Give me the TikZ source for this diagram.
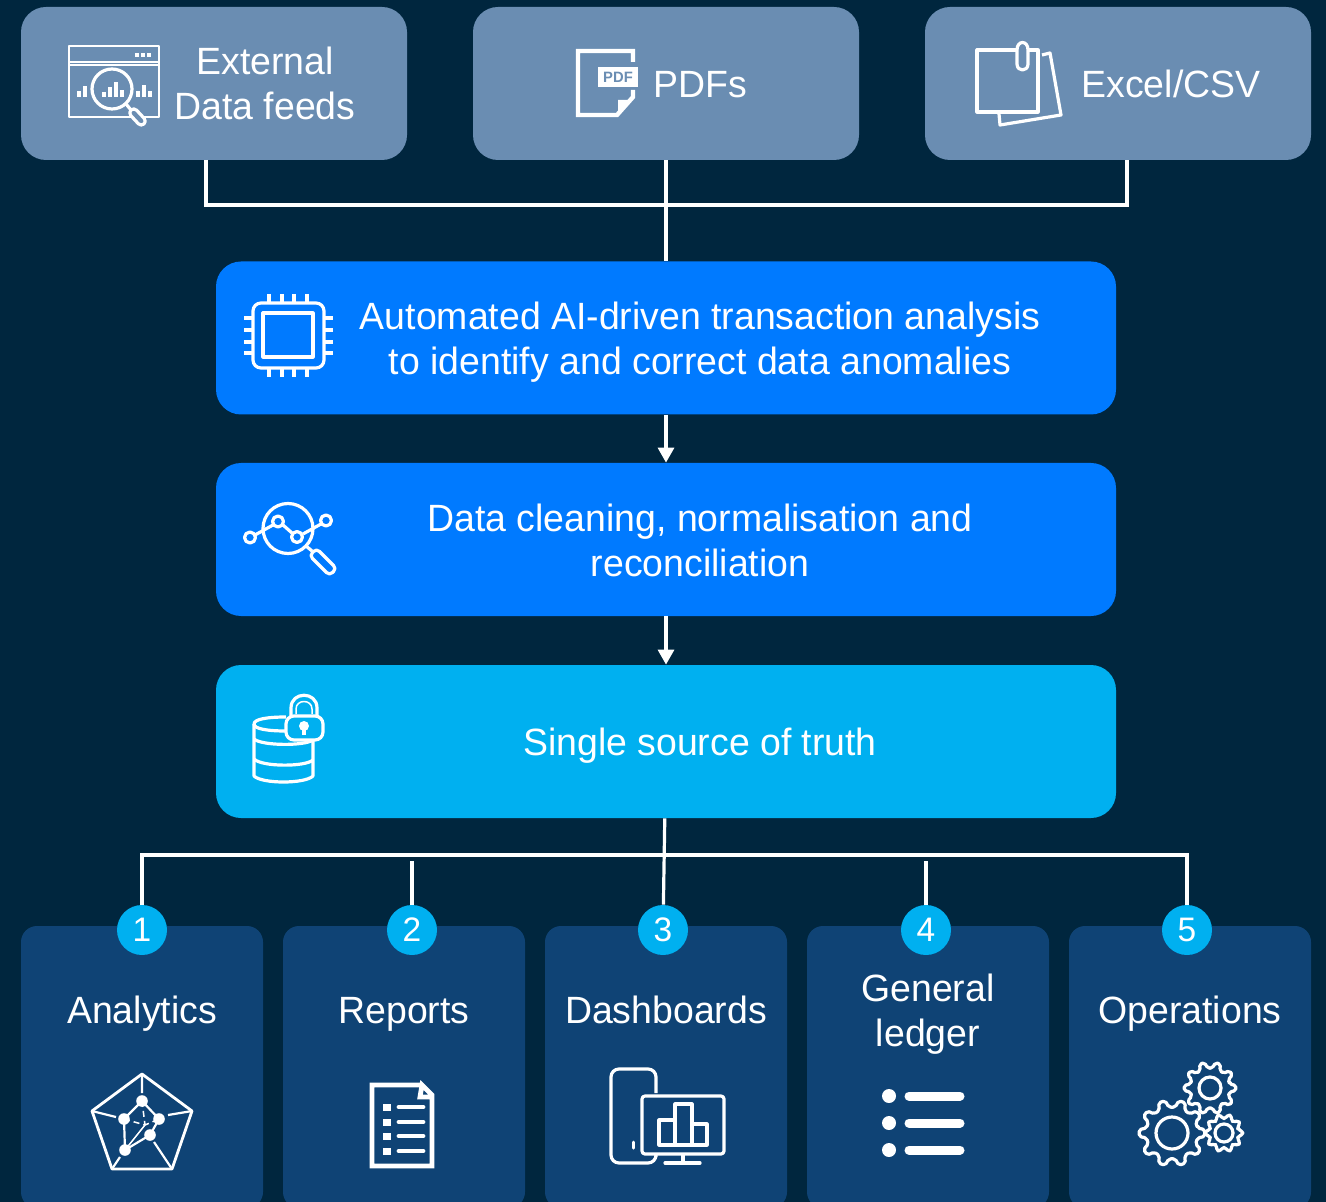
\documentclass[tikz,border=0pt]{standalone}
\usepackage{fontspec}
\setmainfont[FakeStretch=0.985]{Liberation Sans}
\usetikzlibrary{arrows.meta}

\definecolor{pagebg}{RGB}{0,38,62}
\definecolor{feedblue}{RGB}{106,141,178}
\definecolor{stepblue}{RGB}{0,122,255}
\definecolor{truthblue}{RGB}{0,176,240}
\definecolor{outblue}{RGB}{15,67,117}

\tikzset{
	feedbox/.style={shape=rectangle,fill=feedblue,rounded corners=12.5pt,minimum width=193pt,minimum height=76.5pt,inner sep=0pt},
	stepbox/.style={shape=rectangle,rounded corners=12.5pt,minimum width=450pt,minimum height=76.5pt,inner sep=0pt},
	outbox/.style={shape=rectangle,fill=outblue,rounded corners=8pt,minimum width=121pt,minimum height=141pt,inner sep=0pt},
	badge/.style={shape=circle,fill=truthblue,text=white,minimum size=25pt,inner sep=0pt,font=\fontsize{17}{20}\selectfont},
	caption/.style={text=white,align=center,inner sep=0pt,font=\fontsize{19}{22.5}\selectfont},
	wire/.style={draw=white,line width=1.6pt},
	icon/.style={draw=white,line width=1.6pt,line join=round},
	bar/.style={draw=white,line width=2pt}
}

% one gear: centre x, centre y, hole, root, tip
\newcommand{\geardraw}[5]{
	\begin{scope}[shift={(#1,#2)}]
		\draw[icon] (0,0) circle[radius=#3];
		\draw[icon,rounded corners=1pt] (-11:#4) \foreach \a in {0,36,...,324} { -- (\a-11:#4) -- (\a-6:#5) -- (\a+6:#5) -- (\a+11:#4) } -- cycle;
	\end{scope}
}

\begin{document}
\begin{tikzpicture}[x=0.5pt,y=-0.5pt]

	\useasboundingbox (0,0) rectangle (1326,1202);
	\clip (0,0) rectangle (1326,1202);
	\fill[pagebg] (0,0) rectangle (1326,1202);

	% feeds
	\node[feedbox] (ext) at (214,83.5) {};
	\node[feedbox] (pdf) at (666,83.5) {};
	\node[feedbox] (xls) at (1118,83.5) {};
	\node[caption] (exttxt) at (265,83) {External\\Data feeds};
	\node[caption] (pdftxt) at (700,85) {PDFs};
	\node[caption] (xlstxt) at (1171,84) {Excel/CSV};

	% steps
	\node[stepbox,fill=stepblue] (ai) at (666,338) {};
	\node[stepbox,fill=stepblue] (clean) at (666,539.5) {};
	\node[stepbox,fill=truthblue] (truth) at (666,741.5) {};
	\node[caption] (aitxt) at (700,342) {Automated AI-driven transaction analysis\\to identify and correct data anomalies};
	\node[caption] (cleantxt) at (700,540) {Data cleaning, normalisation and\\reconciliation};
	\node[caption] (truthtxt) at (700,746) {Single source of truth};

	% outputs
	\node[outbox] (ana) at (142,1067) {};
	\node[outbox] (rep) at (404,1067) {};
	\node[outbox] (dash) at (666,1067) {};
	\node[outbox] (led) at (928,1067) {};
	\node[outbox] (ops) at (1190,1067) {};
	\node[caption] (anatxt) at (142,1014) {Analytics};
	\node[caption] (reptxt) at (404,1014) {Reports};
	\node[caption] (dashtxt) at (666,1010) {Dashboards};
	\node[caption] (ledtxt) at (928,1014) {General\\ledger};
	\node[caption] (opstxt) at (1190,1014) {Operations};

	\node[badge] (b1) at (142,930) {1};
	\node[badge] (b2) at (412,930) {2};
	\node[badge] (b3) at (663,930) {3};
	\node[badge] (b4) at (926,930) {4};
	\node[badge] (b5) at (1187,930) {5};

	\coordinate (extout) at (206,160);
	\coordinate (xlsout) at (1127,160);
	\coordinate (topbus) at (666,205);
	\coordinate (lowbus) at (666,855);
	\coordinate (stubtwo) at (412,861);
	\coordinate (stubfour) at (926,861);

	\path[wire] (extout) |- (topbus) -| (xlsout);
	\path[wire] (pdf) -- (ai);
	\path[wire,-{Triangle[length=7.5pt,width=8pt,fill=white]}] (ai) -- (clean);
	\path[wire,-{Triangle[length=7.5pt,width=8pt,fill=white]}] (clean) -- (truth);
	\path[wire] (truth) -- (b3);
	\path[wire] (b1) |- (lowbus) -| (b5);
	\path[wire] (stubtwo) -- (b2);
	\path[wire] (stubfour) -- (b4);

	% window with lens
	\draw[icon,line width=1.4pt] (69,46) rectangle (159,117);
	\draw[icon,line width=1.2pt] (69,62) -- (159,62);
	\draw[icon,line width=1.2pt] (69,65) -- (159,65);
	\draw[bar,line width=1.8pt] (135,55) -- (139,55) (141,55) -- (145,55) (147,55) -- (151,55);
	\draw[icon,fill=feedblue] (112,89) circle[radius=20];
	\draw[icon] (126,104) -- (131,110);
	\draw[icon,fill=feedblue,rounded corners=2pt] (133.9,107.3) -- (146.9,121.3) -- (141.1,126.7) -- (128.1,112.7) -- cycle;
	\foreach \x/\h in {79/6,85/11,104/5,110/10,116/15,122/7,138/6,144/12,150/6}
		\draw[bar,line width=1.9pt] (\x,97) -- (\x,97-\h);

	% pdf sheet
	\draw[white,line width=2.2pt,line join=miter] (633,62) -- (633,51) -- (578,51) -- (578,115) -- (617,115) -- (633,97) -- (633,90);
	\fill[white] (618,116) -- (618,100) -- (632,100) -- cycle;
	\node[fill=white,text=feedblue,inner sep=0pt,minimum width=20pt,minimum height=10pt,font=\bfseries\fontsize{7.5}{9}\selectfont] (pdftag) at (618,77) {PDF};

	% clipped sheets
	\draw[icon] (1042,55) -- (1050,53) -- (1061,115) -- (1000,125) -- (999,114);
	\draw[icon,fill=feedblue] (977,50) rectangle (1038,112);
	\draw[icon,fill=feedblue] (1017,50) .. controls (1017,40) and (1028,40) .. (1028,50) -- (1028,64) .. controls (1028,72) and (1017,72) .. (1017,64) -- cycle;

	% chip
	\draw[icon,rounded corners=4pt] (253,303) rectangle (324,368);
	\draw[icon] (263,313) rectangle (313,357);
	\foreach \x in {269,282,294,307} {
		\draw[icon] (\x,294) -- (\x,303);
		\draw[icon] (\x,368) -- (\x,377);
	}
	\foreach \y in {318,330,342,353} {
		\draw[icon] (244,\y) -- (253,\y);
		\draw[icon] (324,\y) -- (333,\y);
	}

	% trend under lens
	\draw[icon] (288,528.5) circle[radius=25];
	\draw[icon] (255,535) -- (273,525) (283,525) -- (292,533) (303,534) -- (321,524);
	\foreach \x/\y in {250/537.5,278/521.5,297/537,326/520.5}
		\draw[icon,fill=stepblue] (\x,\y) circle[radius=5.5];
	\draw[icon] (306,546) -- (312,551);
	\draw[icon,rounded corners=2pt] (316.5,548.5) -- (336.5,568.5) -- (329.5,575.5) -- (309.5,555.5) -- cycle;

	% locked database
	\draw[icon] (286,717) .. controls (268,717) and (254,719) .. (254,724) .. controls (254,729) and (268,731) .. (286,731);
	\draw[icon] (254,724) -- (254,776) .. controls (262,784) and (305,784) .. (313,776) -- (313,741);
	\draw[icon] (254,739) .. controls (262,746) and (305,746) .. (313,740);
	\draw[icon] (254,759) .. controls (262,767) and (305,767) .. (313,760);
	\draw[icon] (291,716) -- (291,708) .. controls (291,691) and (317,691) .. (317,708) -- (317,716);
	\draw[icon,line width=.75pt] (296,714) -- (296,709) .. controls (296,699) and (312,699) .. (312,709) -- (312,714);
	\draw[icon,fill=truthblue,rounded corners=4pt] (286,716) rectangle (323,740);
	\fill[white] (304,726) circle[radius=5];
	\draw[white,line width=2pt] (304,728) -- (304,735);

	% network in pentagon
	\draw[icon,line width=1.4pt] (142,1074) -- (192,1111) -- (172,1169) -- (112,1169) -- (92,1111) -- cycle;
	\draw[icon,line width=1.1pt] (142,1074) -- (142,1093) (92,1111) -- (116,1117) (192,1111) -- (168,1115) (112,1169) -- (120,1157) (172,1169) -- (154,1142);
	\draw[icon,line width=1.1pt] (142,1101) -- (124,1119) -- (125,1150) -- (150,1135) -- (159,1119) -- cycle;
	\draw[icon,line width=.75pt] (125,1150) -- (145,1125);
	\draw[icon,line width=.75pt,dash pattern=on 3pt off 2pt] (142,1101) -- (145,1125) (124,1119) -- (145,1125) -- (159,1119);
	\foreach \x/\y in {142/1101,124/1119,159/1119,150/1135,125/1150}
		\fill[white] (\x,\y) circle[radius=5.8];

	% report sheet
	\draw[white,line width=2.4pt,line join=miter] (422,1085) -- (372,1085) -- (372,1166) -- (432,1166) -- (432,1095) -- (422,1085) -- (420,1097) -- (432,1097);
	\foreach \y in {1107,1122,1136,1151} {
		\fill[white] (383,\y-3.5) rectangle (391,\y+3.5);
		\draw[white,line width=2.4pt,line cap=round] (399,\y) -- (423,\y);
	}

	% phone and screen
	\draw[icon,rounded corners=4pt] (656,1093) -- (656,1069) -- (611,1069) -- (611,1163) -- (656,1163) -- (656,1157);
	\draw[icon,line width=1.5pt,line cap=round] (633,1142) -- (633,1148);
	\draw[icon,rounded corners=1.5pt] (642,1096) rectangle (724,1154);
	\draw[icon] (683,1154) -- (683,1162);
	\draw[icon,line cap=round] (665,1163) -- (700,1163);
	\draw[icon] (659,1145) rectangle (675,1120);
	\draw[icon] (675,1145) rectangle (692,1104);
	\draw[icon] (692,1145) rectangle (707,1124);

	% list
	\foreach \y in {1096,1123,1150} {
		\fill[white] (889,\y) circle[radius=7];
		\draw[white,line width=4.5pt,line cap=round] (909,\y) -- (960,\y);
	}

	% gears
	\geardraw{1172}{1133}{16}{26}{33}
	\geardraw{1210}{1088}{11}{20}{26}
	\geardraw{1224}{1133}{9}{14.5}{19}

\end{tikzpicture}
\end{document}
